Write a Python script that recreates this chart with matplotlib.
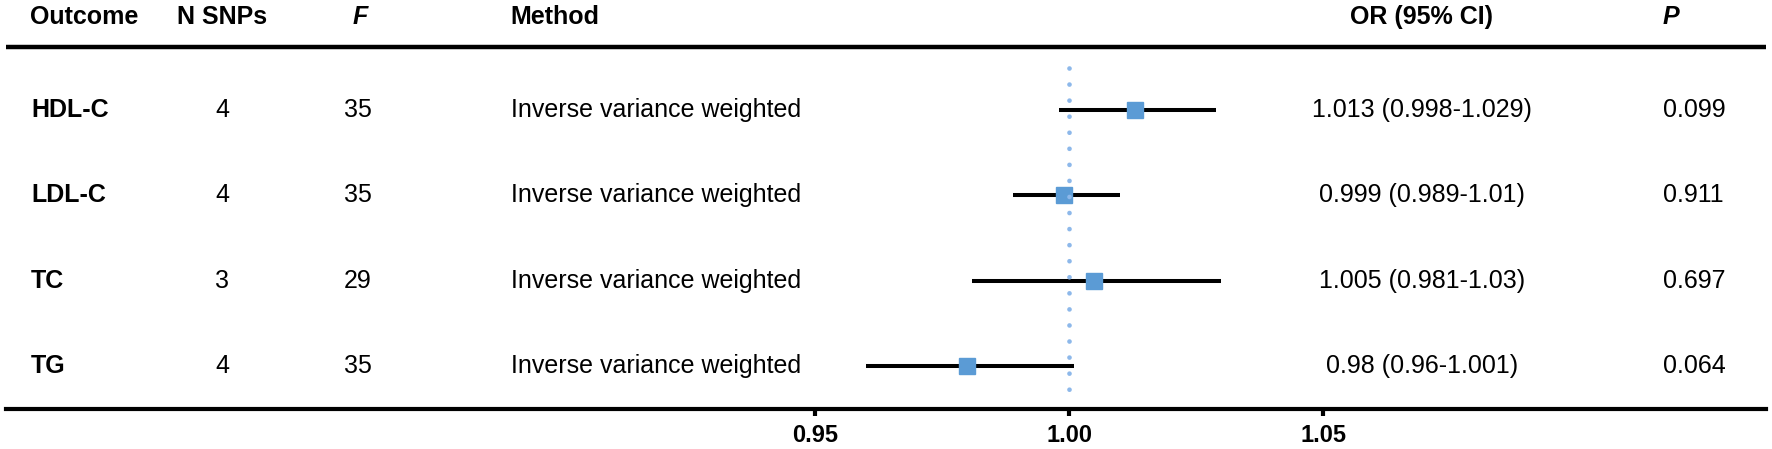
import matplotlib
matplotlib.use("Agg")
import matplotlib.pyplot as plt
from matplotlib.transforms import blended_transform_factory

plt.rcParams['font.family'] = ['Liberation Sans', 'DejaVu Sans']

# data
outcomes = ['HDL-C', 'LDL-C', 'TC', 'TG']
n_snps = [4, 4, 3, 4]
f_stat = [35, 35, 29, 35]
methods = ['Inverse variance weighted'] * 4
odds = [1.013, 0.999, 1.005, 0.98]
ci_low = [0.998, 0.989, 0.981, 0.96]
ci_high = [1.029, 1.01, 1.03, 1.001]
p_values = ['0.099', '0.911', '0.697', '0.064']
x_ticks = [0.95, 1.00, 1.05]

W, H = 1772, 449
fig = plt.figure(figsize=(W / 100, H / 100), dpi=100)
ax = fig.add_axes([6 / W, 40 / H, 1760 / W, 409 / H])

rows = list(range(len(outcomes)))

# forest part
ax.hlines(rows, ci_low, ci_high, color='black', lw=2.9, zorder=2)
ax.plot(odds, rows, 's', color='#5B9BD5', markersize=11, zorder=3)
ax.plot([1, 1], [-0.49, 3.38], color='#8DB8EA', lw=3.4,
        linestyle=(0, (0.001, 3.4)), dash_capstyle='round', zorder=4)

ax.set_xlim(0.79075, 1.13720)
ax.set_ylim(3.5, -1.28)
for s in ['top', 'left', 'right']:
    ax.spines[s].set_visible(False)
ax.spines['bottom'].set_linewidth(3)
ax.set_yticks([])
ax.set_xticks(x_ticks)
ax.set_xticklabels(['%.2f' % t for t in x_ticks], fontweight='bold', fontsize=17)
ax.tick_params(axis='x', length=5, width=3, pad=6)

# header rule
ax.plot([0, 1], [-0.735, -0.735], color='black', lw=3.2,
        transform=blended_transform_factory(ax.transAxes, ax.transData),
        solid_capstyle='butt', clip_on=False)

# table columns
tr = blended_transform_factory(fig.transFigure, ax.transData)
head_y = -1.085
fs = 18


def col(x):
    return x / W


ax.text(col(30), head_y, 'Outcome', transform=tr, ha='left', va='center', fontsize=fs, fontweight='bold')
ax.text(col(222), head_y, 'N SNPs', transform=tr, ha='center', va='center', fontsize=fs, fontweight='bold')
ax.text(col(360), head_y, 'F', transform=tr, ha='center', va='center', fontsize=fs, fontweight='bold', style='italic')
ax.text(col(510), head_y, 'Method', transform=tr, ha='left', va='center', fontsize=fs, fontweight='bold')
ax.text(col(1422), head_y, 'OR (95% CI)', transform=tr, ha='center', va='center', fontsize=fs, fontweight='bold')
ax.text(col(1663), head_y, 'P', transform=tr, ha='left', va='center', fontsize=fs, fontweight='bold', style='italic')

for i in rows:
    ax.text(col(31), i, outcomes[i], transform=tr, ha='left', va='center', fontsize=fs, fontweight='bold')
    ax.text(col(222), i, str(n_snps[i]), transform=tr, ha='center', va='center', fontsize=fs)
    ax.text(col(358), i, str(f_stat[i]), transform=tr, ha='center', va='center', fontsize=fs)
    ax.text(col(511), i, methods[i], transform=tr, ha='left', va='center', fontsize=fs)
    ax.text(col(1422), i, '%s (%s-%s)' % (odds[i], ci_low[i], ci_high[i]),
            transform=tr, ha='center', va='center', fontsize=fs)
    ax.text(col(1663), i, p_values[i], transform=tr, ha='left', va='center', fontsize=fs)

fig.savefig('out.png', dpi=100)
